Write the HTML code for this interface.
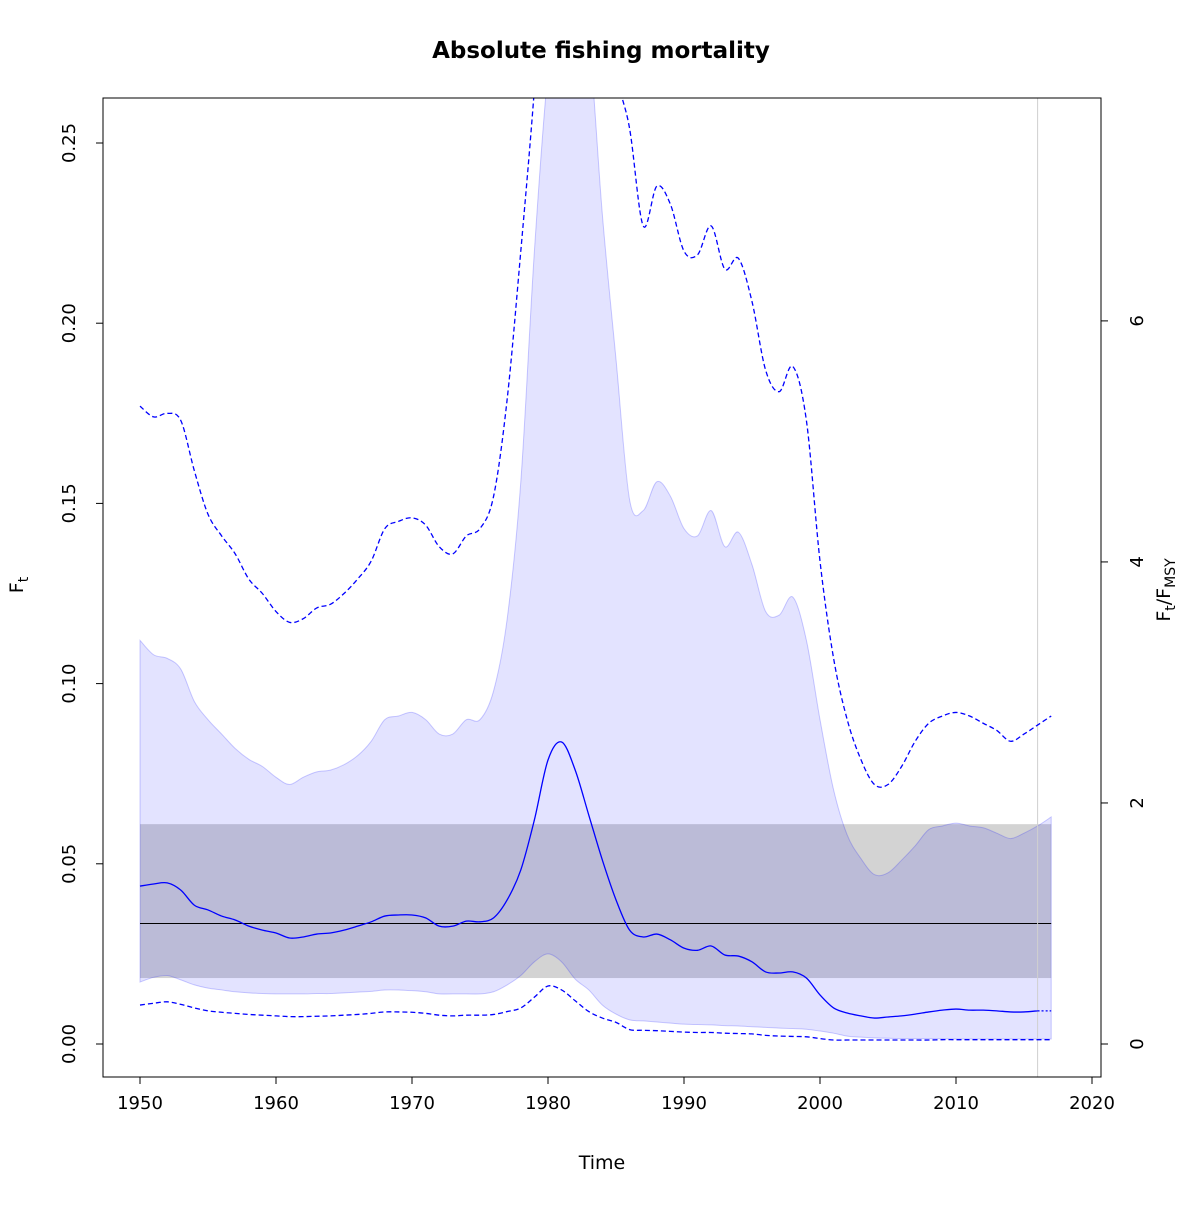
<!DOCTYPE html>
<html><head><meta charset="utf-8"><style>
body{margin:0;background:#fff}
svg text{font-family:"DejaVu Sans","Liberation Sans",sans-serif;fill:#000}
</style></head><body>
<svg id="chart" width="1200" height="1200" xmlns="http://www.w3.org/2000/svg">
<text x="601" y="58" font-size="23" font-weight="bold" text-anchor="middle">Absolute fishing mortality</text>
<defs><clipPath id="clip"><rect x="103" y="98" width="998" height="979"/></clipPath></defs>
<g id="plot" clip-path="url(#clip)"></g>
<rect x="103" y="98" width="998" height="979" fill="none" stroke="#000" stroke-width="1"/>
<g id="axes"></g>
<text x="602" y="1169" font-size="19" text-anchor="middle">Time</text>
<text transform="translate(23,585) rotate(-90)" font-size="19" text-anchor="middle">F<tspan font-size="14" dy="5">t</tspan></text>
<text transform="translate(1170,590) rotate(-90)" font-size="19" text-anchor="middle">F<tspan font-size="14" dy="5">t</tspan><tspan dy="-5">/F</tspan><tspan font-size="14" dy="5">MSY</tspan></text>
</svg>
<script>
const years=[];for(let y=1950;y<=2017;y++)years.push(y);
const median=[0.0438,0.0444,0.0447,0.0427,0.0385,0.0372,0.0355,0.0344,0.0327,0.0316,0.0308,0.0294,0.0297,0.0305,0.0308,0.0316,0.0327,0.0339,0.0355,0.0358,0.0358,0.0350,0.0327,0.0327,0.0341,0.0339,0.0350,0.0400,0.0483,0.0622,0.0788,0.0838,0.0760,0.0635,0.0510,0.0400,0.0316,0.0297,0.0305,0.0289,0.0266,0.0260,0.0272,0.0247,0.0244,0.0228,0.0200,0.0197,0.0200,0.0183,0.0136,0.0100,0.0086,0.0078,0.0072,0.0075,0.0078,0.0083,0.0089,0.0094,0.0097,0.0094,0.0094,0.0092,0.0089,0.0089,0.0092,0.0092];
const upperDashed=[0.177,0.174,0.175,0.173,0.159,0.147,0.141,0.136,0.129,0.125,0.120,0.117,0.118,0.121,0.122,0.125,0.129,0.134,0.143,0.145,0.146,0.144,0.138,0.136,0.141,0.143,0.152,0.179,0.220,0.265,0.32,0.36,0.36,0.34,0.30,0.27,0.254,0.227,0.238,0.233,0.220,0.219,0.227,0.215,0.218,0.206,0.187,0.181,0.188,0.173,0.134,0.107,0.090,0.079,0.072,0.072,0.077,0.084,0.089,0.091,0.092,0.091,0.089,0.087,0.084,0.086,0.0885,0.091];
const lowerDashed=[0.0108,0.0113,0.0117,0.0110,0.0100,0.0092,0.0088,0.0085,0.0082,0.0080,0.0078,0.0076,0.0076,0.0077,0.0078,0.0080,0.0082,0.0085,0.0089,0.0089,0.0088,0.0085,0.0080,0.0078,0.0080,0.0080,0.0082,0.0090,0.0100,0.0130,0.0161,0.0150,0.0120,0.0090,0.0072,0.0060,0.0040,0.0038,0.0037,0.0035,0.0033,0.0032,0.0032,0.0030,0.0029,0.0028,0.0024,0.0022,0.0021,0.0020,0.0015,0.0011,0.0011,0.0011,0.0011,0.0011,0.0011,0.0011,0.0011,0.0012,0.0012,0.0012,0.0012,0.0012,0.0012,0.0012,0.0012,0.0012];
const bandUpper=[0.112,0.108,0.107,0.104,0.095,0.090,0.086,0.082,0.079,0.077,0.074,0.072,0.074,0.0755,0.076,0.0775,0.080,0.084,0.090,0.091,0.092,0.090,0.086,0.086,0.090,0.090,0.098,0.118,0.156,0.22,0.27,0.30,0.30,0.28,0.23,0.19,0.151,0.148,0.156,0.152,0.143,0.141,0.148,0.138,0.142,0.133,0.120,0.119,0.124,0.112,0.090,0.0705,0.058,0.0515,0.047,0.0475,0.051,0.055,0.0595,0.0605,0.0613,0.0605,0.060,0.0585,0.057,0.0585,0.0605,0.063];
const bandLower=[0.0172,0.0185,0.019,0.0178,0.0164,0.0155,0.015,0.0145,0.0142,0.014,0.0139,0.0139,0.0139,0.0140,0.0140,0.0142,0.0144,0.0146,0.015,0.015,0.0148,0.0145,0.0139,0.0139,0.0139,0.0139,0.0145,0.0164,0.019,0.0228,0.025,0.0228,0.018,0.015,0.0108,0.0083,0.0067,0.0064,0.0061,0.0058,0.0055,0.0054,0.0053,0.0051,0.0050,0.0048,0.0046,0.0044,0.0043,0.0041,0.0036,0.0030,0.0022,0.0019,0.0017,0.0016,0.0015,0.0015,0.0015,0.0015,0.0014,0.0014,0.0014,0.0014,0.0014,0.0014,0.0014,0.0014];
const refBand=[0.0183,0.061];
const fmsy=0.03344;
const xTicks=[1950,1960,1970,1980,1990,2000,2010,2020];
const yTicks=[0,0.05,0.10,0.15,0.20,0.25];
const yTickLabels=["0.00","0.05","0.10","0.15","0.20","0.25"];
const rTicks=[0,2,4,6];
const lastObsYear=2016;

const X=y=>140+(y-1950)*(1092-140)/70;
const Y=v=>1044-v*3604;
const NS="http://www.w3.org/2000/svg";
const plot=document.getElementById('plot'),axes=document.getElementById('axes');
function mk(tag,attrs,parent){const e=document.createElementNS(NS,tag);for(const k in attrs)e.setAttribute(k,attrs[k]);parent.appendChild(e);return e;}
function spline(pts){let d="M"+pts[0][0]+","+pts[0][1];for(let i=0;i<pts.length-1;i++){const p0=pts[Math.max(0,i-1)],p1=pts[i],p2=pts[i+1],p3=pts[Math.min(pts.length-1,i+2)];d+=" C"+(p1[0]+(p2[0]-p0[0])/6)+","+(p1[1]+(p2[1]-p0[1])/6)+" "+(p2[0]-(p3[0]-p1[0])/6)+","+(p2[1]-(p3[1]-p1[1])/6)+" "+p2[0]+","+p2[1];}return d;}
function pts(arr,a,b){const r=[];for(let i=0;i<years.length;i++){if(years[i]<a||years[i]>b)continue;r.push([X(years[i]),Y(arr[i])]);}return r;}

let e=mk('rect',{x:X(1950),y:Y(refBand[1]),width:X(2017)-X(1950),height:Y(refBand[0])-Y(refBand[1]),fill:'#d3d3d3'},plot);

const up=pts(bandUpper,1950,2017),lo=pts(bandLower,1950,2017).reverse();
const dUp=spline(up),dLo=spline(lo);
e=mk('path',{d:dUp+" L"+lo[0][0]+","+lo[0][1]+dLo.replace(/^M[^ ]+/,"")+" Z",fill:'rgba(0,0,255,0.11)',stroke:'rgba(0,0,255,0.2)','stroke-width':1},plot);

e=mk('line',{x1:X(1950),x2:X(2017),y1:Y(fmsy),y2:Y(fmsy),stroke:'#000','stroke-width':1},plot);

e=mk('line',{x1:X(lastObsYear),x2:X(lastObsYear),y1:98,y2:1077,stroke:'#d0d0d0','stroke-width':1},plot);

e=mk('path',{d:spline(pts(upperDashed,1950,2017)),fill:'none',stroke:'#0000ff','stroke-width':1.3,'stroke-dasharray':'5,3'},plot);

e=mk('path',{d:spline(pts(lowerDashed,1950,2017)),fill:'none',stroke:'#0000ff','stroke-width':1.3,'stroke-dasharray':'5,3'},plot);

e=mk('path',{d:spline(pts(median,1950,lastObsYear)),fill:'none',stroke:'#0000ff','stroke-width':1.3},plot);

e=mk('path',{d:spline(pts(median,lastObsYear,2017)),fill:'none',stroke:'#0000ff','stroke-width':1.3,'stroke-dasharray':'2,2'},plot);


xTicks.forEach(t=>{const x=X(t);mk('line',{x1:x,x2:x,y1:1077,y2:1084,stroke:'#000'},axes);
 e=mk('text',{x:x,y:1109,'font-size':18,'text-anchor':'middle'},axes);e.textContent=t;
 });
yTicks.forEach((t,i)=>{const y=Y(t);mk('line',{x1:96,x2:103,y1:y,y2:y,stroke:'#000'},axes);
 e=mk('text',{transform:`translate(75,${y}) rotate(-90)`,'font-size':18,'text-anchor':'middle'},axes);e.textContent=yTickLabels[i];
 });
rTicks.forEach(t=>{const y=Y(t*fmsy);mk('line',{x1:1101,x2:1108,y1:y,y2:y,stroke:'#000'},axes);
 e=mk('text',{transform:`translate(1143,${y}) rotate(-90)`,'font-size':18,'text-anchor':'middle'},axes);e.textContent=t;
 });
</script>
</body></html>
